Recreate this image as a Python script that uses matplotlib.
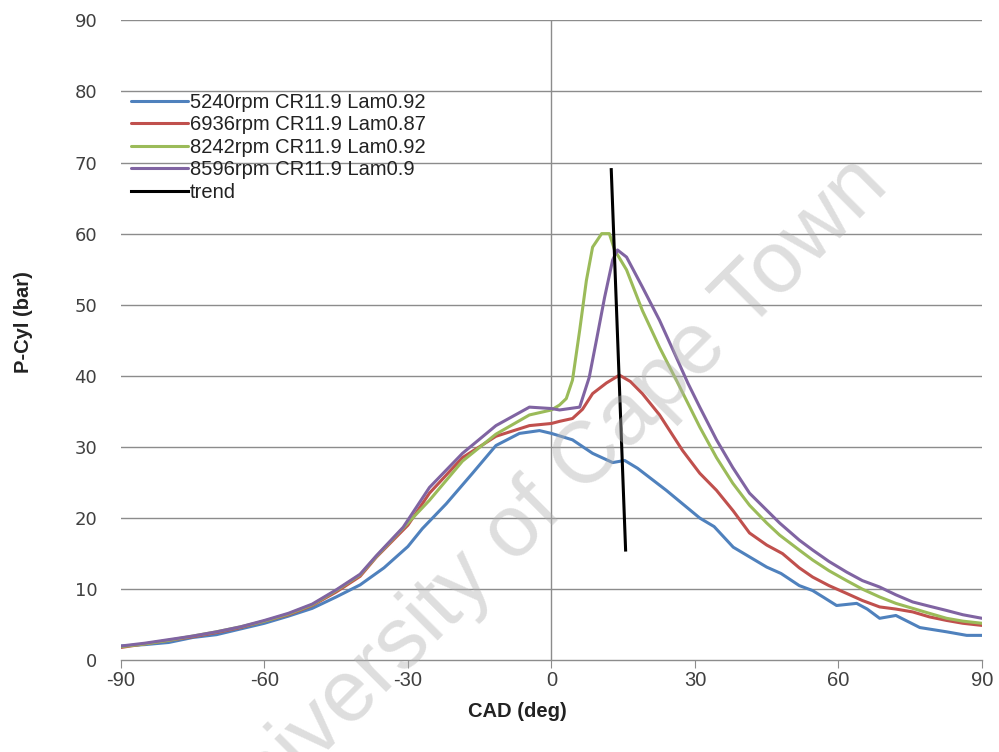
import matplotlib
matplotlib.use("Agg")
import matplotlib.pyplot as plt

plt.rcParams["axes.unicode_minus"] = False

# ---- data ----
x_blue = [-90, -85, -80, -75, -70, -65, -60, -55, -50, -45, -40, -35, -30, -27, -22, -16.5, -11.6, -6.7, -2.5, 0,
          4.4, 8.6, 12.8, 15.3, 18, 24, 31, 34, 38, 45, 48, 51.8, 54.6, 57, 59.6, 63.8, 66, 68.6, 72, 77, 82.6, 86.8, 90]
y_blue = [2.0, 2.2, 2.5, 3.2, 3.6, 4.4, 5.2, 6.2, 7.3, 8.9, 10.6, 13.0, 16.0, 18.5, 22.0, 26.3, 30.2, 31.9, 32.3, 31.9,
          31.0, 29.1, 27.8, 28.1, 27.0, 23.9, 20.0, 18.8, 15.9, 13.1, 12.2, 10.5, 9.8, 8.8, 7.7, 8.0, 7.2, 5.9, 6.3, 4.6, 4.0, 3.5, 3.5]

x_red = [-90, -85, -80, -75, -70, -65, -60, -55, -50, -45, -40, -36.6, -30, -25.5, -18.6, -11.6, -4.6, 0, 1.7, 4.4,
         6.5, 8.6, 11.5, 14.2, 16.5, 19, 22.6, 27.4, 31, 34.5, 38, 41.4, 45, 48.3, 51.8, 54.6, 58, 61.7, 65, 68.6,
         72, 75.5, 79, 82.6, 86, 90]
y_red = [1.8, 2.3, 2.8, 3.3, 3.9, 4.6, 5.5, 6.4, 7.7, 9.6, 11.8, 14.5, 19.0, 23.5, 28.5, 31.5, 33.0, 33.3, 33.6, 34.0,
         35.3, 37.5, 39.0, 40.1, 39.2, 37.5, 34.5, 29.5, 26.3, 23.9, 21.0, 17.9, 16.2, 15.0, 13.0, 11.7, 10.5, 9.4, 8.4, 7.5,
         7.2, 6.8, 6.1, 5.6, 5.2, 4.9]

x_green = [-90, -85, -80, -75, -70, -65, -60, -55, -50, -45, -40, -36.6, -30, -25.5, -18.6, -11.6, -4.6, 0, 1.7, 3.1,
           4.4, 5.9, 7.3, 8.6, 10.5, 12.1, 13.2, 15.7, 19, 22.6, 26.1, 29, 31, 34.5, 37.9, 41.4, 45, 47.7, 51.8, 54.6,
           58, 61.7, 65, 68.6, 72, 75.5, 79, 82.6, 86, 90]
y_green = [1.9, 2.3, 2.8, 3.4, 4.0, 4.7, 5.5, 6.5, 7.8, 9.8, 12.0, 14.6, 19.3, 22.5, 28.0, 31.8, 34.5, 35.2, 35.9, 36.8,
           39.4, 46.4, 53.4, 58.1, 60.0, 60.0, 57.7, 54.9, 49.2, 44.0, 39.4, 35.5, 32.8, 28.5, 24.9, 21.8, 19.3, 17.6, 15.5, 14.1,
           12.6, 11.2, 10.0, 8.9, 8.0, 7.3, 6.6, 5.9, 5.5, 5.2]

x_purple = [-90, -85, -80, -75, -70, -65, -60, -55, -50, -45, -40, -36.6, -31, -25.5, -18.6, -11.6, -4.6, 0, 1.7, 5.9,
            7.9, 9.4, 11.1, 12.8, 13.8, 15.7, 19, 22.6, 26.1, 28.5, 31, 34.5, 37.9, 41.4, 45, 47.7, 51.8, 54.6, 58, 61.7,
            65, 68.6, 72, 75.5, 79, 82.6, 86, 90]
y_purple = [2.0, 2.4, 2.9, 3.4, 4.0, 4.7, 5.6, 6.6, 7.9, 9.9, 12.1, 14.7, 18.7, 24.3, 29.1, 33.0, 35.6, 35.4, 35.2, 35.6,
            39.8, 45.0, 51.0, 56.3, 57.7, 56.7, 52.5, 47.8, 42.6, 39.0, 35.6, 31.0, 27.1, 23.5, 21.1, 19.3, 16.9, 15.5, 13.9, 12.4,
            11.2, 10.3, 9.2, 8.2, 7.6, 7.0, 6.4, 5.9]

x_trend = [12.5, 15.5]
y_trend = [69.0, 15.5]

labels = ["5240rpm CR11.9 Lam0.92", "6936rpm CR11.9 Lam0.87", "8242rpm CR11.9 Lam0.92",
          "8596rpm CR11.9 Lam0.9", "trend"]
xticks = [-90, -60, -30, 0, 30, 60, 90]
yticks = [0, 10, 20, 30, 40, 50, 60, 70, 80, 90]

colors = ["#4F81BD", "#C0504D", "#9BBB59", "#8064A2", "#000000"]

fig = plt.figure(figsize=(9.99, 7.52), dpi=100)
ax = fig.add_axes([0.121, 0.122, 0.862, 0.851])
ax.set_xlim(-90, 90)
ax.set_ylim(0, 90)

grid_c = "#8c8c8c"
for yv in yticks[1:]:
    ax.axhline(yv, color=grid_c, lw=1.0, zorder=1)
ax.axvline(0, color=grid_c, lw=1.0, zorder=1)

series = [(x_blue, y_blue), (x_red, y_red), (x_green, y_green), (x_purple, y_purple)]
for (xs, ys), c, lab in zip(series, colors[:4], labels[:4]):
    ax.plot(xs, ys, color=c, lw=2.2, label=lab, zorder=3, solid_joinstyle="round", solid_capstyle="round")
ax.plot(x_trend, y_trend, color="black", lw=2.2, label=labels[4], zorder=4)

for s in ["top", "right", "left"]:
    ax.spines[s].set_visible(False)
ax.spines["bottom"].set_color(grid_c)
ax.spines["bottom"].set_linewidth(1.0)
ax.set_xticks(xticks)
ax.set_yticks(yticks)
ax.tick_params(axis="x", direction="out", length=6, color=grid_c, pad=2, labelsize=14.5, labelcolor="#404040")
ax.tick_params(axis="y", length=0, pad=17, labelsize=13, labelcolor="#404040")
for t in ax.get_xticklabels():
    t.set_fontfamily("Liberation Sans")
for t in ax.get_yticklabels():
    t.set_fontfamily("DejaVu Sans")

ax.set_xlabel("CAD (deg)", fontsize=14.5, fontweight="bold", family="Liberation Sans", color="#222222")
ax.xaxis.set_label_coords(0.46, -0.065)
ax.set_ylabel("P-Cyl (bar)", fontsize=14.5, fontweight="bold", family="Liberation Sans", color="#222222")
ax.yaxis.set_label_coords(-0.102, 0.528)

leg = ax.legend(loc="upper left", bbox_to_anchor=(0.012, 0.887), frameon=False,
                prop={"family": "Liberation Sans", "size": 14.5}, handlelength=2.83, handletextpad=0.1,
                labelspacing=0.18, borderaxespad=0.0, borderpad=0.0)
for t in leg.get_texts():
    t.set_color("#222222")

fig.text(0.542, 0.328, "University of Cape Town", fontsize=63, rotation=45, color="#b0b0b0",
         alpha=0.42, ha="center", va="center", rotation_mode="anchor", family="Liberation Sans", zorder=10)

fig.savefig("out.png", dpi=100, facecolor="white")
